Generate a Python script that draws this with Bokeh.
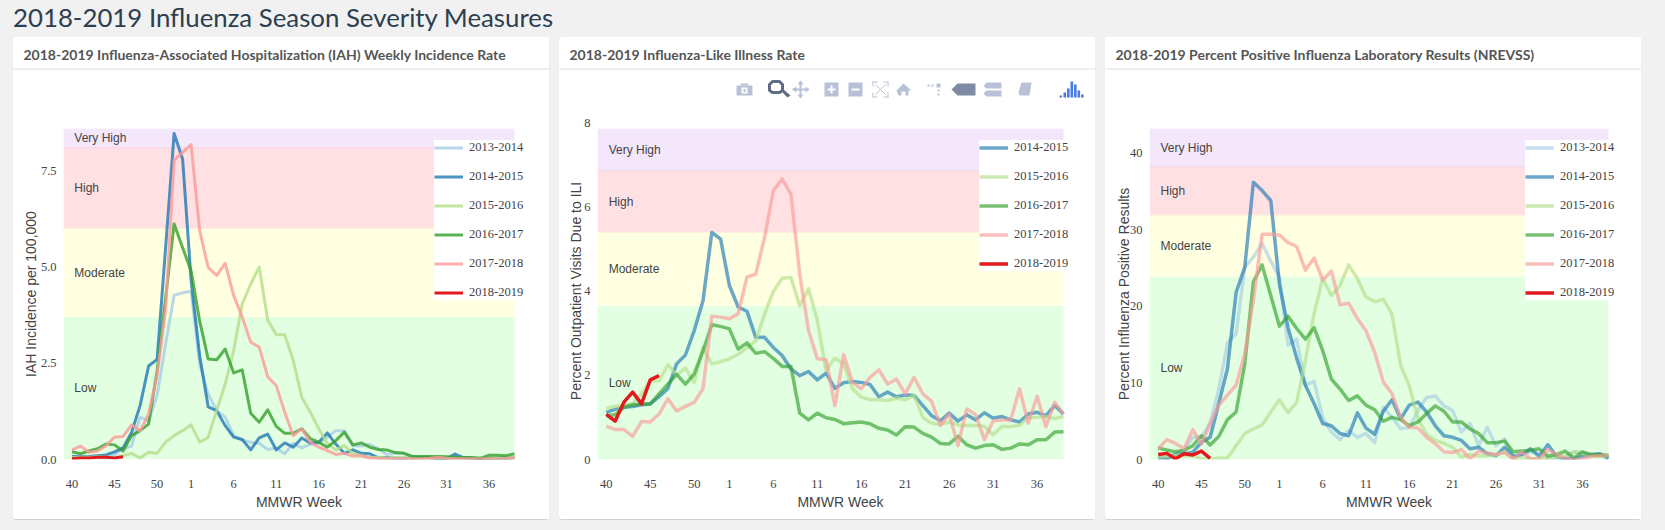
from bokeh.plotting import figure
from bokeh.embed import file_html
from bokeh.resources import INLINE
from bokeh.layouts import column, row
from bokeh.models import (FixedTicker, Label, Legend, LegendItem, Range1d,
                          BoxAnnotation, PolyAnnotation)

WEEKS = list(range(40, 54)) + list(range(1, 40))
TICK_WEEKS = [40, 45, 50, 1, 6, 11, 16, 21, 26, 31, 36]
SEASONS = ["2013-2014", "2014-2015", "2015-2016", "2016-2017", "2017-2018", "2018-2019"]
COLORS = {"2013-2014": "#a6cee3", "2014-2015": "#1f78b4", "2015-2016": "#b2df8a",
          "2016-2017": "#33a02c", "2017-2018": "#fb9a99", "2018-2019": "#e31a1c"}
BAND_NAMES = ["Low", "Moderate", "High", "Very High"]
BAND_COLORS = ["#e3ffe2", "#ffffe2", "#ffe1e4", "#f4e6fb"]

IAH = {
"2013-2014": [.05,.05,.06,.05,.03,.12,.28,.35,1.1,1.0,1.66,3.0,4.27,4.33,4.37,2.48,1.7,1.27,1.1,.62,.5,.45,.42,.26,.3,.15,.42,.3,.4,.42,.58,.75,.75,.36,.35,.39,.28,.13,.16,.16,.08,.05,.05,.03,.03,.05,.03,.03,.03,.03,.03,.03,.04],
"2014-2015": [.08,.07,.08,.1,.12,.2,.3,.7,1.4,2.43,2.6,5.5,8.47,7.8,4.65,2.7,1.37,1.27,.88,.58,.52,.25,.56,.66,.25,.43,.32,.56,.43,.45,.69,.4,.16,.25,.16,.15,.04,.05,.03,.03,.04,.05,.06,0,.02,.14,.05,.03,.02,.03,.03,.03,.05],
"2015-2016": [.05,.05,.06,.07,.06,.05,.1,.16,.04,.19,.16,.45,.62,.75,.9,.45,.58,1.27,1.96,2.83,4.04,4.56,5.0,3.62,3.24,3.24,2.57,1.62,1.23,.8,.41,.25,.36,.16,.1,.06,.05,.04,.05,.04,.03,.02,.02,.04,.03,.02,.04,.03,.03,.02,.03,.04,.05],
"2016-2017": [.2,.15,.22,.28,.4,.38,.22,.62,.75,.92,2.3,4.2,6.12,5.5,4.9,3.6,2.61,2.59,2.87,2.25,2.33,1.2,.97,1.29,.86,.68,.68,.8,.54,.45,.32,.49,.71,.38,.43,.32,.26,.25,.18,.16,.08,.08,.08,.08,.07,.06,.05,.05,.03,.11,.11,.1,.15],
"2017-2018": [.25,.35,.19,.22,.36,.58,.6,.9,.75,1.18,2.2,3.9,7.78,7.98,8.18,5.95,4.99,4.78,5.1,4.26,3.7,3.05,2.92,2.15,1.92,1.23,.62,.8,.45,.32,.23,.13,.16,.09,.1,.04,.03,.02,.02,.02,.02,.02,.03,.06,.03,.02,.02,.02,.02,.02,.02,.02,.05],
"2018-2019": [.02,.04,.04,.06,.06,.04,.07],
}
ILI = {
"2014-2015": [1.12,1.19,1.24,1.26,1.3,1.32,1.49,1.68,2.27,2.48,3.06,3.77,5.39,5.23,4.13,3.62,3.52,2.9,2.9,2.66,2.47,2.15,1.99,2.09,1.89,2.05,1.69,1.82,1.85,1.83,1.78,1.49,1.6,1.49,1.53,1.52,1.28,1.04,.92,1.1,.91,1.06,.94,1.11,.98,1.02,.94,.89,1.08,1.12,1.04,1.28,1.08],
"2015-2016": [1.22,1.26,1.28,1.33,1.56,1.86,1.87,2.25,2.0,2.17,1.83,2.65,2.27,2.32,2.39,2.5,2.65,2.82,3.45,3.99,4.3,4.32,3.65,4.05,3.3,2.11,2.41,2.27,1.68,1.48,1.42,1.42,1.4,1.46,1.42,1.52,1.0,.86,.83,.89,.82,.81,.81,.79,.59,.79,.78,.81,.99,1.0,1.02,.97,1.02],
"2016-2017": [1.04,1.06,1.24,1.3,1.32,1.32,1.56,1.79,2.02,1.79,2.03,2.58,3.2,3.16,3.1,2.62,2.77,2.52,2.56,2.4,2.21,2.21,1.1,.94,1.1,.99,.95,.85,.87,.89,.85,.74,.7,.58,.78,.77,.62,.53,.38,.37,.55,.35,.27,.33,.35,.24,.27,.37,.35,.47,.47,.65,.66],
"2017-2018": [.79,.71,.71,.55,.9,.89,1.08,1.44,1.15,1.26,1.36,1.68,3.4,3.38,3.34,3.46,4.33,4.4,5.27,6.38,6.66,6.3,4.4,3.06,2.39,2.37,1.28,2.49,1.83,1.68,1.95,2.13,1.79,1.91,1.56,1.95,1.56,1.38,.81,1.08,.33,1.2,1.07,.47,.92,.94,.94,1.68,.86,1.5,.78,1.36,1.08],
"2018-2019": [1.07,.91,1.36,1.6,1.32,1.89,1.99],
}
NREVSS = {
"2013-2014": [.3,.3,.8,1.2,2.9,2.9,4.7,9.2,15.2,16.4,25.1,26.4,28.2,25.9,23.8,14.9,15.7,9.7,10.2,5.5,3.6,2.6,3.8,2.9,3.4,2.2,6.8,5.5,4.0,4.2,6.4,8.1,8.3,7.0,6.4,3.6,4.7,1.8,4.2,1.8,2.7,.3,.65,1.0,.8,.1,.1,.2,1.0,.9,.7,.6,.5],
"2014-2015": [.2,.1,.65,.75,.95,2.27,2.9,7.3,11.85,21.8,25.1,36.2,35.1,33.8,22.9,17.2,13.2,9.7,7.3,4.7,4.4,3.4,3.1,6.1,4.1,3.3,6.3,7.8,5.3,7.1,7.5,6.2,4.4,3.1,2.9,2.5,1.4,1.6,.75,.5,1.6,.4,.65,1.4,.4,1.95,.4,.1,.1,.4,.65,.75,.1],
"2015-2016": [.3,.4,.6,.5,.5,.1,0,.2,.2,1.8,3.4,4.0,4.5,6.2,7.8,6.1,7.5,12.9,19,23.6,21.4,22.7,25.4,23.6,21.2,20.6,20.9,19,12.3,9.6,5.3,3.3,2.5,2.1,1.6,.3,.65,.5,.5,.6,1.0,.1,.2,.1,.1,.2,.3,.5,1.0,.8,.6,.4,.5],
"2016-2017": [1.5,1.25,1.0,1.2,1.8,3.1,1.9,3.0,5.2,6.2,12.5,23.2,25.4,21.4,17.4,18.7,17.1,15.7,17.2,14.2,10.5,9.2,7.7,8.3,7.1,6.5,5.0,5.5,5.2,4.4,4.9,6.0,7.0,6.3,4.9,4.9,4.0,3.4,2.2,2.2,2.4,1.0,1.1,1.2,1.4,.45,.65,1.1,.2,1.0,.6,.65,.5],
"2017-2018": [1.4,2.6,2.1,1.4,3.9,2.0,4.7,7.1,8.4,9.7,13.8,20.8,29.4,29.4,29.3,28.3,27.8,24.7,26.3,23.4,24.6,20.2,20.4,18.4,16.8,14,10.1,8.6,5.5,4.2,4.1,2.9,2.05,1.0,.9,1.3,.1,1.1,.85,.65,.9,.1,.95,.1,.1,1.3,.65,.15,0,.1,.4,.5,.6],
"2018-2019": [.65,.8,.1,.75,.6,1.1,.15],
}

X_START, X_END = -1, 52
EXTRA = 20  # frame pixels to the right of the last week, room for the legend text
PANELS = [
 dict(title="2018-2019 Influenza-Associated Hospitalization (IAH) Weekly Incidence Rate", data=IAH,
      ylabel="IAH Incidence per 100,000", yticks=[0, 2.5, 5, 7.5], ylabels={0:"0.0",2.5:"2.5",5:"5.0",7.5:"7.5"},
      edges=[0, 3.7, 6.0, 8.1, 8.6], ytop=8.6, left=50, framew=451, top=27, lw=3, alpha=.8, standoff=-1, legx=371,
      margin=(0,10,0,13)),
 dict(title="2018-2019 Influenza-Like Illness Rate", data=ILI,
      ylabel="Percent Outpatient Visits Due to ILI", yticks=[0,2,4,6,8], ylabels={0:"0",2:"2",4:"4",6:"6",8:"8"},
      edges=[0, 3.65, 5.39, 6.85, 7.85], ytop=8.0, left=38, framew=466, top=21, lw=3.5, alpha=.65, standoff=-3, legx=382,
      margin=(0,10,0,0)),
 dict(title="2018-2019 Percent Positive Influenza Laboratory Results (NREVSS)", data=NREVSS,
      ylabel="Percent Influenza Positive Results", yticks=[0,10,20,30,40], ylabels={0:"0",10:"10",20:"20",30:"30",40:"40"},
      edges=[0, 23.9, 31.9, 38.2, 43.2], ytop=43.2, left=44, framew=459, top=27, lw=3.5, alpha=.65, standoff=-5, legx=376,
      margin=(0,25,0,0)),
]
PANEL_W, PANEL_H, HEADER_H = 536, 482, 64
BOTTOM = 60
TICK_C = "#444444"

def poly(p, xs, ys, fill, line=None, lw=1):
    p.add_layout(PolyAnnotation(xs=xs, ys=ys, xs_units="canvas", ys_units="canvas", fill_color=fill, fill_alpha=1 if fill else 0,
                                line_color=line, line_width=lw, line_alpha=1 if line else 0))

def rect(p, x0, y0, x1, y1, fill):
    poly(p, [x0,x1,x1,x0], [y0,y0,y1,y1], fill)

def add_modebar(p):
    ox, oy = 559, 37
    c, d = "#b8c1d6", "#5f6c86"
    R = lambda a,b,e,f,col=c: rect(p, a-ox, b-oy, e-ox, f-oy, col)
    R(736,85,752,95); R(740,83,748,85); R(741,87,747,93,"#ffffff"); R(743,88.5,745,91.5,c)
    poly(p, [x-ox for x in [772,779,782,782,779,772,769,769]], [y-oy for y in [81,81,84,90,92,92,90,84]], None, d, 3)
    poly(p, [x-ox for x in [781,783,790,787]], [y-oy for y in [91,89,95,97]], d)
    R(792,88,808,90); R(799,81,801,97)
    poly(p, [x-ox for x in [800,797,803]], [y-oy for y in [80,84,84]], c)
    poly(p, [x-ox for x in [800,797,803]], [y-oy for y in [98,94,94]], c)
    poly(p, [x-ox for x in [792,796,796]], [y-oy for y in [89,86,92]], c)
    poly(p, [x-ox for x in [809,805,805]], [y-oy for y in [89,86,92]], c)
    R(824,82,838,96); R(827,88,835,90,"#ffffff"); R(830,85,832,93,"#ffffff")
    R(848,82,862,96); R(851,88,859,90,"#ffffff")
    for a,b,e,f in [(872,81,877,82),(883,81,888,82),(872,96,877,97),(883,96,888,97),(872,81,873,86),(887,81,888,86),(872,92,873,97),(887,92,888,97)]:
        R(a,b,e,f)
    poly(p, [x-ox for x in [875,885]], [y-oy for y in [84,94]], None, c, 1)
    poly(p, [x-ox for x in [885,875]], [y-oy for y in [84,94]], None, c, 1)
    poly(p, [x-ox for x in [903,911,908,908,905,905,901,901,898,896]], [y-oy for y in [83,90,90,95,95,91,91,95,95,90]], c)
    R(936,83,940,87,c); R(927,84,929,86); R(931,84,933,86); R(937,89,939,91); R(937,93,939,95)
    poly(p, [x-ox for x in [951,957,975,975,957]], [y-oy for y in [89,83,83,95,95]], "#7f8ba5")
    poly(p, [x-ox for x in [983,986,1001,1001,986]], [y-oy for y in [85.5,82,82,88,88]], c)
    poly(p, [x-ox for x in [983,986,1001,1001,986]], [y-oy for y in [93,90,90,96,96]], c)
    poly(p, [x-ox for x in [1021,1031,1029,1019,1018]], [y-oy for y in [82,82,95,95,92]], c)
    for a, t in [(1059,95),(1063,92),(1066.5,88),(1070,81),(1073.5,84),(1077,90),(1080.5,94)]:
        R(a,t,a+2.6,97,"#4a7be0")

def make_header(cfg):
    h = figure(width=PANEL_W, height=HEADER_H, output_backend="svg", toolbar_location=None, frame_align=False,
               x_range=Range1d(0,1), y_range=Range1d(0,1), min_border=0, background_fill_color="white",
               border_fill_color="white", outline_line_color=None)
    h.axis.visible = False
    h.grid.visible = False
    h.add_layout(BoxAnnotation(left=0, right=PANEL_W, top=31, bottom=32, left_units="canvas", right_units="canvas",
                               top_units="canvas", bottom_units="canvas", fill_color="#dddddd", fill_alpha=1, line_color=None))
    h.add_layout(Label(x=10, y=17, x_units="canvas", y_units="canvas", text=cfg["title"], text_font="Lato",
                       text_font_style="bold", text_font_size="14px", text_color="#555555", text_baseline="middle"))
    return h

def make_plot(cfg):
    per_px = (X_END - X_START) / cfg["framew"]
    p = figure(width=PANEL_W, height=PANEL_H - HEADER_H, output_backend="svg", toolbar_location=None, frame_align=False,
               x_range=Range1d(X_START, X_END + EXTRA * per_px), y_range=Range1d(0, cfg["ytop"]),
               min_border_left=cfg["left"], min_border_right=PANEL_W - cfg["left"] - cfg["framew"] - EXTRA,
               min_border_top=cfg["top"], min_border_bottom=BOTTOM, background_fill_color="white",
               border_fill_color="white", outline_line_color=None)
    p.grid.visible = False
    ed = cfg["edges"]
    p.quad(left=X_START, right=X_END, bottom=ed[:-1], top=ed[1:], fill_color=BAND_COLORS, line_color=None)
    p.segment(x0=X_START, x1=X_END, y0=ed[2:4], y1=ed[2:4], line_color=["#ffeedc", "#f7d2e6"], line_width=1)
    for i, name in enumerate(BAND_NAMES):
        p.add_layout(Label(x=.27, y=(ed[i]+ed[i+1])/2, text=name, text_font="Liberation Sans", text_font_size="12px",
                           text_color="#444444", text_baseline="middle"))
    items = []
    for s, ys in cfg["data"].items():
        xs = list(range(len(ys)))
        a = 1 if s == "2018-2019" else cfg["alpha"]
        r = p.line(xs, ys, line_color=COLORS[s], line_width=cfg["lw"], line_alpha=a, line_join="round")
        items.append(LegendItem(label=s, renderers=[r]))
    n = len(items)
    leg = Legend(items=items, location=(cfg["legx"], 159 if n == 6 else 188), padding=5, margin=0,
                 spacing=14, glyph_width=29, glyph_height=15, label_height=15, label_standoff=6,
                 label_text_font="Liberation Serif", label_text_font_size="12.5px", label_text_color="#444444",
                 background_fill_color="white", background_fill_alpha=1, border_line_color=None)
    p.add_layout(leg)
    ax = p.xaxis[0]
    ax.ticker = FixedTicker(ticks=[WEEKS.index(w) for w in TICK_WEEKS])
    ax.major_label_overrides = {WEEKS.index(w): str(w) for w in TICK_WEEKS}
    ax.bounds = (X_START, X_END)
    ay = p.yaxis[0]
    ay.ticker = FixedTicker(ticks=cfg["yticks"])
    ay.major_label_overrides = cfg["ylabels"]
    for a in (ax, ay):
        a.axis_line_color = None
        a.major_tick_line_color = None
        a.minor_tick_line_color = None
        a.major_label_text_font = "Liberation Serif"
        a.major_label_text_font_size = "12.5px"
        a.major_label_text_color = TICK_C
        a.axis_label_text_font = "Liberation Sans"
        a.axis_label_text_font_size = "14px"
        a.axis_label_text_font_style = "normal"
        a.axis_label_text_color = TICK_C
    ax.axis_label = "MMWR Week"
    ax.major_label_standoff = 14
    ax.axis_label_standoff = 3
    ay.axis_label = cfg["ylabel"]
    ay.major_label_standoff = 1
    ay.axis_label_standoff = cfg["standoff"]
    return p

top = figure(width=1665, height=37, output_backend="svg", toolbar_location=None, frame_align=False,
             x_range=Range1d(0,1), y_range=Range1d(0,1),
             min_border=0, background_fill_color="#f1f1f1", border_fill_color="#f1f1f1", outline_line_color=None)
top.axis.visible = False
top.grid.visible = False
top.add_layout(Label(x=12.5, y=16, x_units="canvas", y_units="canvas", text="2018-2019 Influenza Season Severity Measures",
                     text_font="Lato", text_font_size="25.8px", text_color="#2c3e50", text_baseline="middle"))

headers = [make_header(c) for c in PANELS]
add_modebar(headers[1])
cols = [column(h, make_plot(c), spacing=0, margin=c["margin"],
               styles={"background": "white", "border-radius": "3px", "box-shadow": "0 1px 1px #cfcfcf"})
        for h, c in zip(headers, PANELS)]
layout = column(top, row(*cols, spacing=0), spacing=0)
html = file_html(layout, INLINE)
html = html.replace("<head>", "<head><style>html,body{background:#f1f1f1}</style>", 1)
open("out.html", "w").write(html)
